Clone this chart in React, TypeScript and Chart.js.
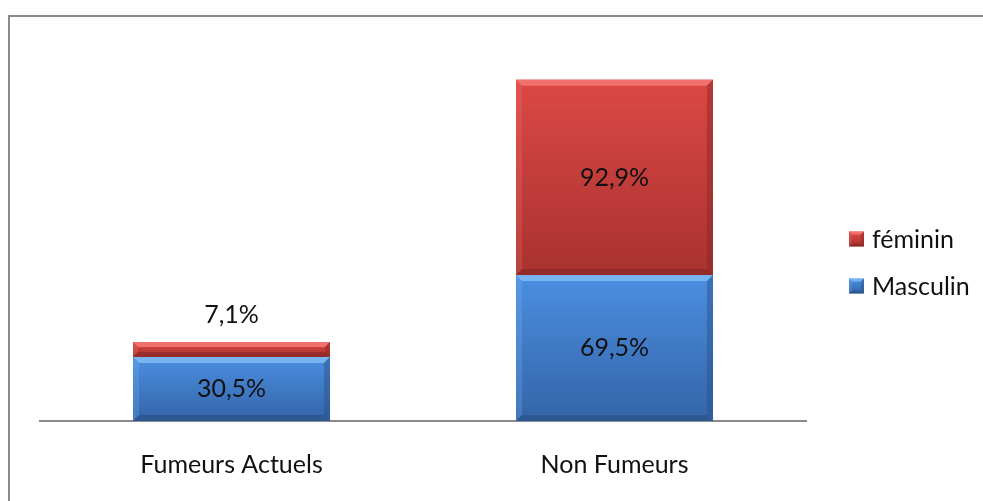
import React, { useEffect, useRef } from "react";
import { Chart, registerables } from "chart.js";

Chart.register(...registerables);

const categories = ["Fumeurs Actuels", "Non Fumeurs"];
const masculinValues = [30.5, 69.5];
const femininValues = [7.1, 92.9];
const seriesNames = ["Masculin", "féminin"];
const valueLabelsMasculin = ["30,5%", "69,5%"];
const valueLabelsFeminin = ["7,1%", "92,9%"];

const FONT = "Lato, 'Open Sans', sans-serif";
const FONT_SIZE = 25;

type Pal = { base: string; top: string; bottom: string; light: string; dark: string };
const BLUE: Pal = { base: "#3f7dcc", top: "#4b8fe0", bottom: "#3464a8", light: "#7cb9f4", dark: "#2a4f86" };
const RED: Pal = { base: "#cf4240", top: "#dc4845", bottom: "#a8322f", light: "#f27572", dark: "#862624" };

function drawBevelRect(ctx: CanvasRenderingContext2D, x0: number, y0: number, x1: number, y1: number, p: Pal, bev: number) {
  const w = x1 - x0;
  const h = y1 - y0;
  if (w <= 0 || h <= 0) return;
  const b = Math.min(bev, h / 3, w / 3);
  const g = ctx.createLinearGradient(0, y0, 0, y1);
  g.addColorStop(0, p.top);
  g.addColorStop(1, p.bottom);
  ctx.fillStyle = g;
  ctx.fillRect(x0, y0, w, h);
  ctx.fillStyle = p.light;
  ctx.globalAlpha = 0.9;
  ctx.beginPath();
  ctx.moveTo(x0, y0);
  ctx.lineTo(x1, y0);
  ctx.lineTo(x1 - b, y0 + b);
  ctx.lineTo(x0 + b, y0 + b);
  ctx.closePath();
  ctx.fill();
  ctx.globalAlpha = 0.25;
  ctx.fillStyle = p.light;
  ctx.beginPath();
  ctx.moveTo(x0, y0);
  ctx.lineTo(x0 + b, y0 + b);
  ctx.lineTo(x0 + b, y1 - b);
  ctx.lineTo(x0, y1);
  ctx.closePath();
  ctx.fill();
  ctx.globalAlpha = 0.45;
  ctx.fillStyle = p.dark;
  ctx.beginPath();
  ctx.moveTo(x1, y0);
  ctx.lineTo(x1 - b, y0 + b);
  ctx.lineTo(x1 - b, y1 - b);
  ctx.lineTo(x1, y1);
  ctx.closePath();
  ctx.fill();
  ctx.globalAlpha = 0.6;
  ctx.beginPath();
  ctx.moveTo(x0, y1);
  ctx.lineTo(x1, y1);
  ctx.lineTo(x1 - b, y1 - b);
  ctx.lineTo(x0 + b, y1 - b);
  ctx.closePath();
  ctx.fill();
  ctx.globalAlpha = 1;
}

const framePlugin = {
  id: "frame",
  beforeDraw(chart: any) {
    const ctx = chart.ctx;
    ctx.save();
    ctx.fillStyle = "#ffffff";
    ctx.fillRect(0, 0, chart.width, chart.height);
    ctx.strokeStyle = "#8a8a8a";
    ctx.lineWidth = 2;
    ctx.beginPath();
    ctx.moveTo(8, 16);
    ctx.lineTo(chart.width, 16);
    ctx.moveTo(9, 15);
    ctx.lineTo(9, chart.height);
    ctx.stroke();
    ctx.restore();
  },
};

const barStylePlugin = {
  id: "barStyle",
  afterDatasetsDraw(chart: any) {
    const ctx = chart.ctx;
    ctx.save();
    chart.data.datasets.forEach((ds: any, di: number) => {
      const meta = chart.getDatasetMeta(di);
      const pal = di === 0 ? BLUE : RED;
      meta.data.forEach((el: any) => {
        const { x, y, base, width } = el.getProps(["x", "y", "base", "width"], true);
        drawBevelRect(ctx, x - width / 2, Math.min(y, base), x + width / 2, Math.max(y, base), pal, 6);
      });
    });
    ctx.font = `${FONT_SIZE}px ${FONT}`;
    ctx.fillStyle = "#111111";
    ctx.textAlign = "center";
    ctx.textBaseline = "middle";
    chart.data.datasets.forEach((ds: any, di: number) => {
      const meta = chart.getDatasetMeta(di);
      const labels = di === 0 ? valueLabelsMasculin : valueLabelsFeminin;
      meta.data.forEach((el: any, i: number) => {
        const { x, y, base } = el.getProps(["x", "y", "base"], true);
        const h = Math.abs(base - y);
        const ly = h < 30 ? Math.min(y, base) - 27 : (y + base) / 2;
        ctx.fillText(labels[i], x, ly);
      });
    });
    ctx.restore();
  },
};

const legendPlugin = {
  id: "customLegend",
  afterDraw(chart: any) {
    const ctx = chart.ctx;
    ctx.save();
    ctx.font = `${FONT_SIZE}px ${FONT}`;
    ctx.textAlign = "left";
    ctx.textBaseline = "middle";
    const boxX = chart.chartArea.right + 43;
    const centers = [239, 286];
    const order = [1, 0];
    order.forEach((di, k) => {
      const cy = centers[k];
      const pal = di === 0 ? BLUE : RED;
      drawBevelRect(ctx, boxX, cy - 7.5, boxX + 15, cy + 7.5, pal, 3);
      ctx.fillStyle = "#111111";
      ctx.fillText(chart.data.datasets[di].label, boxX + 23, cy + 1);
    });
    ctx.restore();
  },
};

export default function App() {
  const ref = useRef<HTMLCanvasElement | null>(null);
  useEffect(() => {
    if (!ref.current) return;
    const chart = new Chart(ref.current, {
      type: "bar",
      data: {
        labels: categories,
        datasets: [
          { label: seriesNames[0], data: masculinValues, backgroundColor: BLUE.base, borderWidth: 0, categoryPercentage: 1, barPercentage: 0.514 },
          { label: seriesNames[1], data: femininValues, backgroundColor: RED.base, borderWidth: 0, categoryPercentage: 1, barPercentage: 0.514 },
        ],
      },
      options: {
        animation: false,
        responsive: false,
        maintainAspectRatio: false,
        layout: { padding: { left: 40, right: 177, top: 45, bottom: 0 } },
        plugins: { legend: { display: false }, tooltip: { enabled: false } },
        scales: {
          x: {
            stacked: true,
            grid: { display: false, drawTicks: false },
            border: { display: true, color: "#8a8a8a", width: 2 },
            ticks: { color: "#111111", font: { family: FONT, size: FONT_SIZE }, padding: 29 },
            afterFit: (scale: any) => {
              scale.height = 80;
            },
          } as any,
          y: {
            stacked: true,
            display: false,
            min: 0,
            max: 179,
          },
        },
      },
      plugins: [framePlugin, barStylePlugin, legendPlugin],
    });
    return () => chart.destroy();
  }, []);
  return (
    <div style={{ position: "fixed", left: 0, top: 0, width: 983, height: 501 }}>
      <canvas ref={ref} width={983} height={501} style={{ width: 983, height: 501, display: "block" }} />
    </div>
  );
}
